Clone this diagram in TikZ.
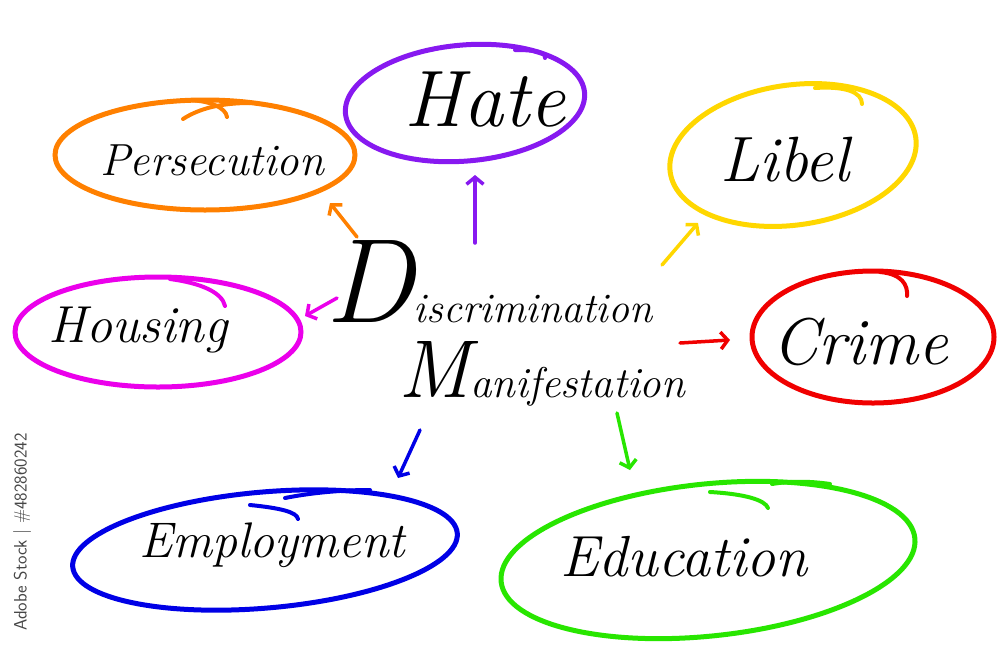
\documentclass[tikz,border=0pt]{standalone}
\usetikzlibrary{shapes.geometric,arrows.meta}
\definecolor{cOrange}{RGB}{255,128,0}
\definecolor{cPurple}{RGB}{135,25,240}
\definecolor{cYellow}{RGB}{255,215,0}
\definecolor{cMagenta}{RGB}{235,0,235}
\definecolor{cRed}{RGB}{240,0,0}
\definecolor{cBlue}{RGB}{0,0,230}
\definecolor{cGreen}{RGB}{40,230,0}
\definecolor{cMark}{RGB}{70,70,70}
\begin{document}
\begin{tikzpicture}[x=1pt,y=-1pt,
  ring/.style={ellipse, draw, line width=5pt, inner sep=0pt},
  hook/.style={line width=4pt, line cap=round},
  word/.style={font=\itshape\fontsize{#1}{#1}\selectfont, inner sep=0pt, text=black},
  arr/.style={line width=3.5pt, line cap=round, -{Straight Barb[length=7pt,width=17pt]}}]
\fill[white] (0,0) rectangle (1000,667);
\useasboundingbox (0,0) rectangle (1000,667);

% rings
\node[ring, draw=cOrange, minimum width=300, minimum height=110] (pers) at (205,155) {};
\node[ring, draw=cPurple, minimum width=240, minimum height=116, rotate=5] (hate) at (465,103) {};
\node[ring, draw=cYellow, minimum width=248, minimum height=140, rotate=8] (libel) at (793,155) {};
\node[ring, draw=cMagenta, minimum width=286, minimum height=110] (hous) at (158,332) {};
\node[ring, draw=cRed, minimum width=242, minimum height=132] (crime) at (873,337) {};
\node[ring, draw=cBlue, minimum width=386, minimum height=116, rotate=5] (empl) at (265,550) {};
\node[ring, draw=cGreen, minimum width=416, minimum height=152, rotate=6] (edu) at (708,560) {};

% overshoot hooks of the hand-drawn rings
\draw[hook, cOrange] (185,100) .. controls (210,100) and (226,108) .. (227,117);
\draw[hook, cOrange] (183,119) .. controls (200,108) and (222,103) .. (250,103);
\draw[hook, cPurple] (515,50) .. controls (535,50) and (546,52) .. (545,58);
\draw[hook, cYellow] (815,88) .. controls (845,86) and (862,92) .. (862,104);
\draw[hook, cMagenta] (170,279) .. controls (200,283) and (222,292) .. (225,306);
\draw[hook, cRed] (880,272) .. controls (902,274) and (908,285) .. (907,296);
\draw[hook, cBlue] (250,505) .. controls (280,508) and (297,512) .. (298,519);
\draw[hook, cBlue] (285,498) .. controls (310,493) and (340,490) .. (370,490);
\draw[hook, cGreen] (710,492) .. controls (745,494) and (765,500) .. (768,508);
\draw[hook, cGreen] (772,484) .. controls (790,481) and (810,481) .. (830,484);

% labels
\node[word=45] (tpers) at (212,160) {Persecution};
\node[word=80] (thate) at (485,100) {Hate};
\node[word=64] (tlibel) at (785,160) {Libel};
\node[word=52] (thous) at (138,330) {Housing};
\node[word=66] (tcrime) at (860,342) {Crime};
\node[word=50] (templ) at (272,545) {Employment};
\node[word=58] (tedu) at (684,557) {Education};

% centre
\node[word=42, anchor=base west] (disc) at (325,322) {{\fontsize{120}{120}\selectfont D}iscrimination};
\node[word=43, anchor=base west] (mani) at (398,397) {{\fontsize{82}{82}\selectfont M}anifestation};

% connectors
\coordinate (a1) at (357,237); \coordinate (b1) at (330,203);
\coordinate (a2) at (475,243); \coordinate (b2) at (475,175);
\coordinate (a3) at (662,265); \coordinate (b3) at (698,223);
\coordinate (a4) at (337,298); \coordinate (b4) at (305,316);
\coordinate (a5) at (680,343); \coordinate (b5) at (730,340);
\coordinate (a6) at (420,430); \coordinate (b6) at (398,478);
\coordinate (a7) at (617,413); \coordinate (b7) at (630,470);
\draw[arr, cOrange] (a1) -- (b1);
\draw[arr, cPurple] (a2) -- (b2);
\draw[arr, cYellow] (a3) -- (b3);
\draw[arr, cMagenta] (a4) -- (b4);
\draw[arr, cRed] (a5) -- (b5);
\draw[arr, cBlue] (a6) -- (b6);
\draw[arr, cGreen] (a7) -- (b7);

% stock mark
\node[rotate=90, text=cMark, font=\sffamily\fontsize{18}{18}\selectfont, inner sep=0pt] (mark) at (22,532) {Adobe Stock | \#482860242};
\end{tikzpicture}
\end{document}
